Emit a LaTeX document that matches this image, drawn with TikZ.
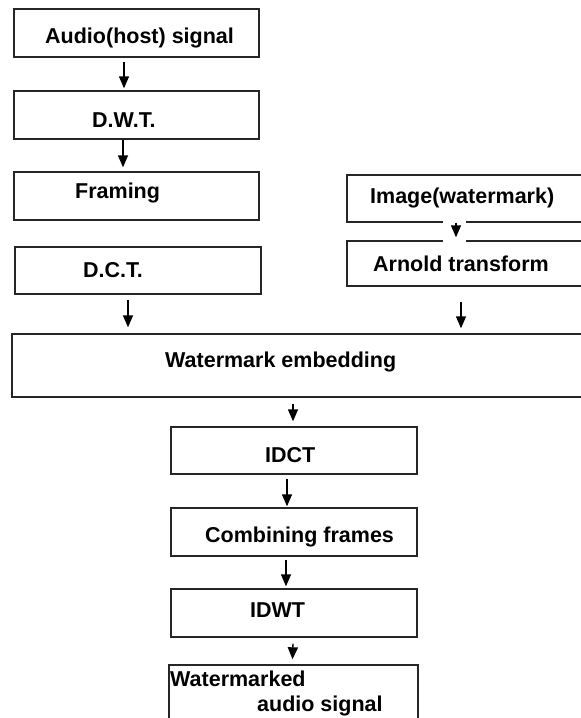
\documentclass[tikz,border=0pt]{standalone}
\usepackage{fontspec}
\setmainfont{Liberation Sans}
\usetikzlibrary{arrows.meta}

\begin{document}
\begin{tikzpicture}[x=1pt,y=-1pt,
  box/.style={draw=black!85, line width=1.4pt, inner sep=0pt, fill=white},
  txt/.style={anchor=base west, inner sep=0pt, font=\fontsize{21.5}{24}\selectfont\bfseries},
  arr/.style={line width=1.4pt, -{Triangle[length=12pt,width=10pt]}}]
\useasboundingbox (0,0) rectangle (581,718);
\clip (0,0) rectangle (581,718);

% left column
\node[box, minimum width=245pt, minimum height=48pt] (audio) at (136.5,33) {};
\node[box, minimum width=245pt, minimum height=48pt] (dwt) at (136.5,115) {};
\node[box, minimum width=245pt, minimum height=48pt] (framing) at (136.5,196) {};
\node[box, minimum width=246pt, minimum height=47pt] (dct) at (138,270.5) {};

% right column
\node[box, minimum width=273pt, minimum height=47pt] (image) at (483.5,198.5) {};
\node[box, minimum width=273pt, minimum height=45pt] (arnold) at (483.5,263.5) {};

\node[box, minimum width=608pt, minimum height=63pt] (embed) at (316,365.5) {};

% lower column
\node[box, minimum width=246pt, minimum height=47pt] (idct) at (294,450.5) {};
\node[box, minimum width=246pt, minimum height=48pt] (comb) at (294,532) {};
\node[box, minimum width=246pt, minimum height=48pt] (idwt) at (294,613) {};
\node[box, minimum width=249pt, minimum height=75pt] (final) at (293.5,702.5) {};

% texts
\node[txt] (audiot) at (45,43) {Audio(host) signal};
\node[txt] (dwtt) at (92,127) {D.W.T.};
\node[txt] (framingt) at (75,198) {Framing};
\node[txt] (dctt) at (83,277) {D.C.T.};
\node[txt] (imaget) at (370,203) {Image(watermark)};
\node[txt] (arnoldt) at (373,271) {Arnold transform};
\node[txt] (embedt) at (165,367) {Watermark embedding};
\node[txt] (idctt) at (265,462) {IDCT};
\node[txt] (combt) at (205,542) {Combining frames};
\node[txt] (idwtt) at (250,617) {IDWT};
\node[txt] (finalt) at (170,686) {Watermarked};
\node[txt] (finalt2) at (257,711) {audio signal};

% arrows
\draw[arr] ([xshift=-12.5pt,yshift=-4pt]audio.south) -- ([xshift=-12.5pt,yshift=2pt]dwt.north);
\draw[arr] ([xshift=-13.5pt]dwt.south) -- ([xshift=-13.5pt,yshift=4pt]framing.north);
\draw[arr] ([xshift=-10pt,yshift=-5pt]dct.south) -- ([xshift=-10pt,yshift=6pt]dct.south |- embed.north);
\fill[white] (443,218) rectangle (466,245);
\draw[arr] ([xshift=-27.5pt]image.south) -- ([xshift=-27.5pt,yshift=3pt]arnold.north);
\draw[arr] ([xshift=-22.5pt,yshift=-15pt]arnold.south) -- ([xshift=-22.5pt,yshift=5pt]arnold.south |- embed.north);
\draw[arr] ([xshift=-1pt]idct.north |- embed.south) ++(0,6) -- ([xshift=-1pt,yshift=5pt]idct.north);
\draw[arr] ([xshift=-7pt,yshift=-4pt]idct.south) -- ([xshift=-7pt,yshift=1pt]comb.north);
\draw[arr] ([xshift=-8pt,yshift=-3pt]comb.south) -- ([xshift=-8pt,yshift=2pt]idwt.north);
\draw[arr] ([xshift=-1pt,yshift=-6pt]idwt.south) -- ([xshift=-1pt,yshift=5pt]final.north);
\end{tikzpicture}
\end{document}
